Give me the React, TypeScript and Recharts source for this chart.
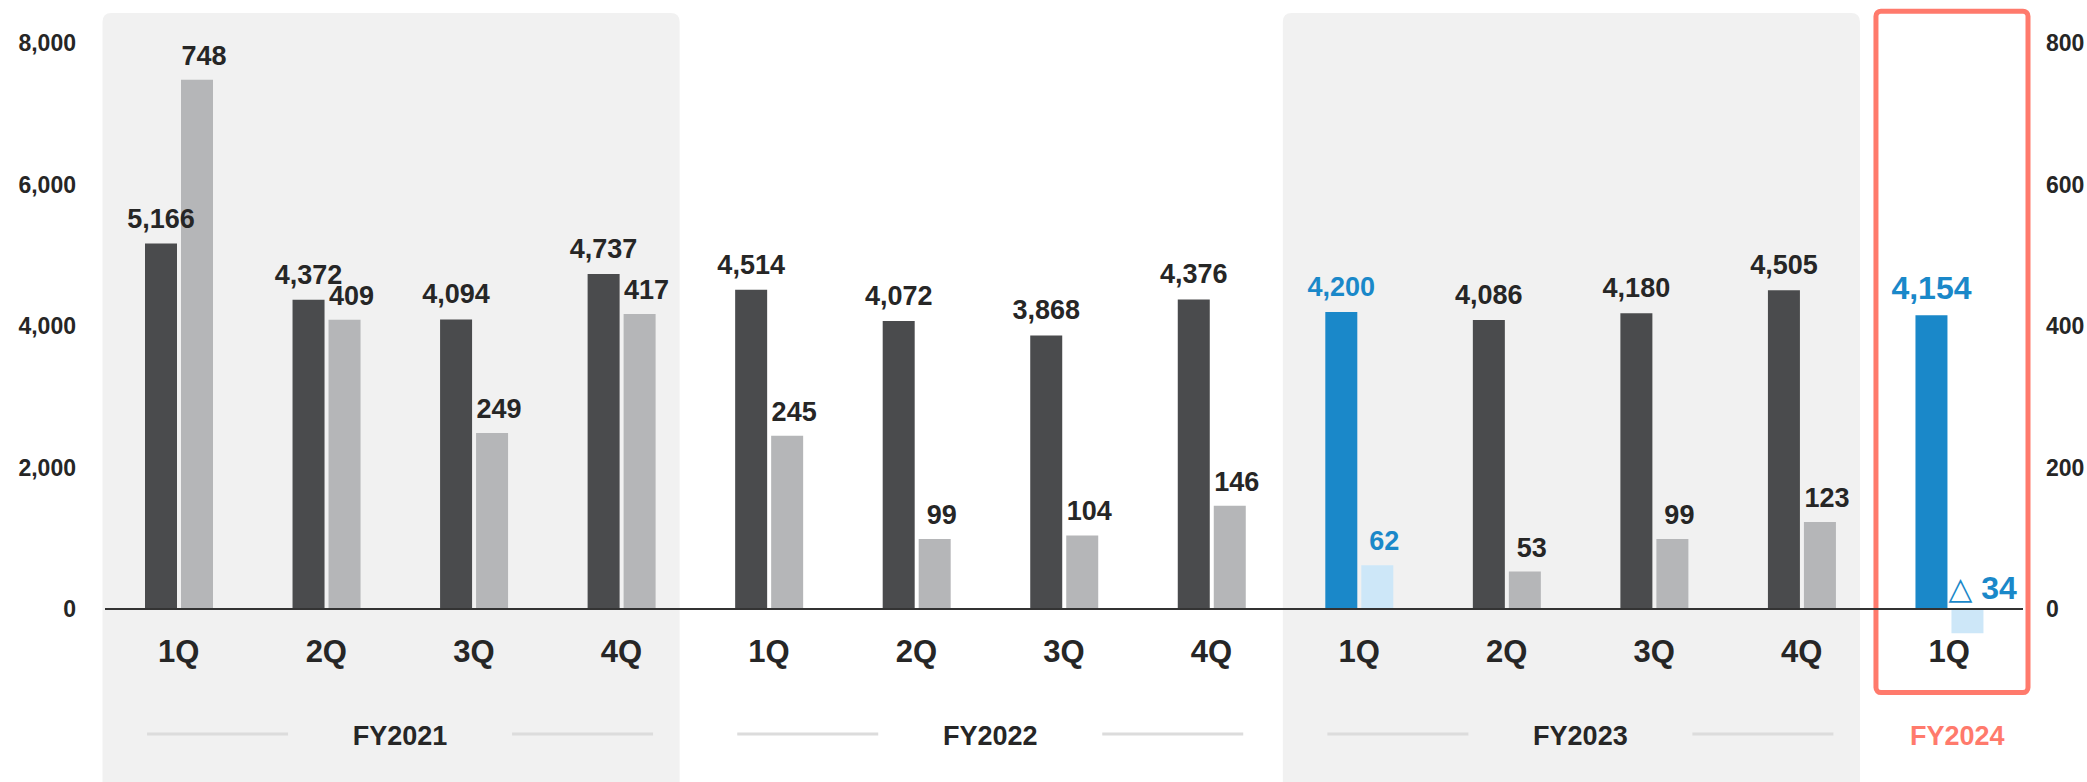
import React from 'react';
import {
  BarChart,
  Bar,
  XAxis,
  YAxis,
  ReferenceArea,
  ReferenceLine,
  Cell,
  LabelList,
} from 'recharts';

// ---------- data ----------
const quarters = ['1Q', '2Q', '3Q', '4Q', '1Q', '2Q', '3Q', '4Q', '1Q', '2Q', '3Q', '4Q', '1Q'];
const fiscalYears = [
  'FY2021', 'FY2021', 'FY2021', 'FY2021',
  'FY2022', 'FY2022', 'FY2022', 'FY2022',
  'FY2023', 'FY2023', 'FY2023', 'FY2023',
  'FY2024',
];
const revenue = [5166, 4372, 4094, 4737, 4514, 4072, 3868, 4376, 4200, 4086, 4180, 4505, 4154];
const profit = [748, 409, 249, 417, 245, 99, 104, 146, 62, 53, 99, 123, -34];
const leftTicks = [0, 2000, 4000, 6000, 8000];
const rightTicks = [0, 200, 400, 600, 800];
const shadedYears = ['FY2021', 'FY2023'];
const currentYear = 'FY2024';
const highlightIndex = [8, 12];
const currentIndex = 12;

// ---------- styles ----------
const FONT = '"Liberation Sans", Arial, Helvetica, sans-serif';
const TEXT = '#262626';
const DARK = '#4a4b4d';
const GRAY = '#b5b6b8';
const BLUE = '#1a88c9';
const LIGHT_BLUE = '#cde7f8';
const PANEL = '#f1f1f1';
const RED = '#ff7a6c';
const RULE = '#dcdcdc';

const data = quarters.map((q, i) => ({
  key: `${fiscalYears[i]}-${q}`,
  quarter: q,
  fy: fiscalYears[i],
  revenue: revenue[i],
  profit: profit[i],
}));

const years = Array.from(new Set(fiscalYears));
const groupOf = (fy: string) => data.filter((d) => d.fy === fy);

const fmt = (v: number) =>
  v < 0 ? `△ ${Math.abs(v).toLocaleString('en-US')}` : v.toLocaleString('en-US');

const isHi = (i: number) => highlightIndex.includes(i);

// ---------- custom pieces ----------
const QuarterTick = (props: any) => {
  const { x, y, payload } = props;
  const i: number = payload?.index ?? props.index ?? 0;
  const row = data[i];
  const half: number = payload?.offset || 73.75;
  const group = groupOf(row.fy);
  const pos = group.indexOf(row);
  const els: React.ReactNode[] = [
    <text
      key="q"
      x={x}
      y={y - 32}
      textAnchor="middle"
      fontSize={31}
      fontWeight={700}
      fill={TEXT}
      fontFamily={FONT}
    >
      {row.quarter}
    </text>,
  ];
  if (pos === 0) {
    const isCurrent = row.fy === currentYear;
    const cx = x + (group.length - 1) * half + (isCurrent ? 8 : 0);
    els.push(
      <text
        key="fy"
        x={cx}
        y={y + 51}
        textAnchor="middle"
        fontSize={27}
        fontWeight={700}
        fill={isCurrent ? RED : TEXT}
        fontFamily={FONT}
      >
        {row.fy}
      </text>
    );
    if (group.length > 1) {
      els.push(
        <line key="l1" x1={cx - 253} x2={cx - 112} y1={y + 40} y2={y + 40} stroke={RULE} strokeWidth={3} />,
        <line key="l2" x1={cx + 112} x2={cx + 253} y1={y + 40} y2={y + 40} stroke={RULE} strokeWidth={3} />
      );
    }
  }
  return <g>{els}</g>;
};

const PanelShape = (props: any) => {
  const { x: x0, y, width, height } = props;
  const x = x0 - 2.5;
  const w = width - 13;
  const r = 9;
  const b = y + height;
  const d = `M${x},${b} L${x},${y + r} Q${x},${y} ${x + r},${y} L${x + w - r},${y} Q${x + w},${y} ${x + w},${y + r} L${x + w},${b} Z`;
  return <path d={d} fill={PANEL} stroke="none" />;
};

const BoxShape = (props: any) => {
  const { x, y, width, height } = props;
  return (
    <rect
      x={x + 0.5}
      y={y}
      width={width + 4.5}
      height={height}
      rx={5}
      ry={5}
      fill="none"
      stroke={RED}
      strokeWidth={5}
    />
  );
};

const RevenueLabel = (props: any) => {
  const vb = props.viewBox ?? props;
  const { x, y, width, height } = vb;
  const i: number = props.index;
  const top = Math.min(y, y + height);
  const big = i === currentIndex;
  return (
    <text
      x={x + width / 2}
      y={top - 16}
      textAnchor="middle"
      fontSize={big ? 32 : 27}
      fontWeight={700}
      fill={isHi(i) ? BLUE : TEXT}
      fontFamily={FONT}
    >
      {fmt(revenue[i])}
    </text>
  );
};

const ProfitLabel = (props: any) => {
  const vb = props.viewBox ?? props;
  const { x, y, width, height } = vb;
  const i: number = props.index;
  const top = Math.min(y, y + height);
  const big = i === currentIndex;
  const v = profit[i];
  if (v < 0) {
    return (
      <text
        x={x - 3}
        y={top - 10}
        textAnchor="start"
        fontSize={32}
        fontWeight={700}
        fill={BLUE}
        fontFamily={FONT}
      >
        <tspan fontWeight={400} fontFamily='"DejaVu Sans", sans-serif' fontSize={31}>△</tspan>
        <tspan dx={9}>{Math.abs(v).toLocaleString('en-US')}</tspan>
      </text>
    );
  }
  return (
    <text
      x={x + width / 2 + 7}
      y={top - 15}
      textAnchor="middle"
      fontSize={big ? 32 : 27}
      fontWeight={700}
      fill={isHi(i) ? BLUE : TEXT}
      fontFamily={FONT}
    >
      {fmt(v)}
    </text>
  );
};

export default function App() {
  return (
    <div
      style={{
        position: 'absolute',
        left: 0,
        top: 0,
        width: 2087,
        height: 782,
        background: '#ffffff',
        overflow: 'hidden',
      }}
    >
      <BarChart
        width={2087}
        height={782}
        data={data}
        margin={{ top: 43, right: 0, bottom: 0, left: 0 }}
        barSize={32}
        barGap={4}
      >
        {years
          .filter((fy) => shadedYears.includes(fy))
          .map((fy) => {
            const g = groupOf(fy);
            return (
              <ReferenceArea
                key={`panel-${fy}`}
                yAxisId="left"
                x1={g[0].key}
                x2={g[g.length - 1].key}
                y1={-2600}
                y2={8424}
                ifOverflow="visible"
                shape={<PanelShape />}
              />
            );
          })}
        <XAxis
          dataKey="key"
          height={88}
          axisLine={false}
          tickLine={false}
          tickSize={0}
          tickMargin={0}
          interval={0}
          tick={<QuarterTick />}
        />
        <YAxis
          yAxisId="left"
          orientation="left"
          width={105}
          domain={[-1200, 8000]}
          ticks={leftTicks}
          axisLine={false}
          tickLine={false}
          tickSize={0}
          tickMargin={29}
          tickFormatter={(v: number) => v.toLocaleString('en-US')}
          tick={{ fontSize: 23, fontWeight: 700, fill: TEXT, fontFamily: FONT }}
        />
        <YAxis
          yAxisId="right"
          orientation="right"
          width={64}
          domain={[-120, 800]}
          ticks={rightTicks}
          axisLine={false}
          tickLine={false}
          tickSize={0}
          tickMargin={23}
          tick={{ fontSize: 23, fontWeight: 700, fill: TEXT, fontFamily: FONT, textAnchor: 'start' }}
        />
        <Bar dataKey="revenue" yAxisId="left" isAnimationActive={false}>
          {data.map((d, i) => (
            <Cell key={`r-${d.key}`} fill={isHi(i) ? BLUE : DARK} />
          ))}
          <LabelList dataKey="revenue" content={<RevenueLabel />} />
        </Bar>
        <Bar dataKey="profit" yAxisId="right" isAnimationActive={false}>
          {data.map((d, i) => (
            <Cell key={`p-${d.key}`} fill={isHi(i) ? LIGHT_BLUE : GRAY} />
          ))}
          <LabelList dataKey="profit" content={<ProfitLabel />} />
        </Bar>
        <ReferenceLine yAxisId="left" y={0} stroke="#333333" strokeWidth={2} />
        <ReferenceArea
          yAxisId="left"
          x1={data[currentIndex].key}
          x2={data[currentIndex].key}
          y1={-1180}
          y2={8450}
          ifOverflow="visible"
          shape={<BoxShape />}
        />
      </BarChart>
    </div>
  );
}
